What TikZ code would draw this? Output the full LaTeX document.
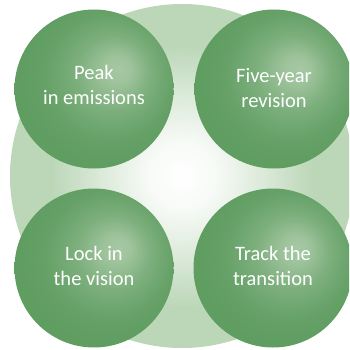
\documentclass[tikz,border=0pt]{standalone}
\usepackage{fontspec}
\setmainfont{Carlito}
\definecolor{dk}{HTML}{5F9D61}
\definecolor{hl}{HTML}{A6C8A3}
\definecolor{bgc}{HTML}{BCD7B8}
\pgfdeclareradialshading{ballg}{\pgfpoint{8bp}{6.5bp}}{color(0bp)=(hl); color(4bp)=(hl!90!dk); color(12bp)=(dk!60!hl); color(20bp)=(dk!90!hl); color(27bp)=(dk); color(50bp)=(dk)}
\pgfdeclareradialshading{bgsh}{\pgfpointorigin}{color(0bp)=(white); color(5bp)=(white!88!bgc); color(12bp)=(white!45!bgc); color(19bp)=(bgc); color(50bp)=(bgc)}
\tikzset{
  ballnode/.style={circle, minimum size=159pt, inner sep=0pt, shading=ballg, draw=none},
  lbl/.style={text=white, align=center, font=\fontsize{20.5}{25}\selectfont}
}
\begin{document}
\begin{tikzpicture}[x=1pt,y=-1pt]
\useasboundingbox (0,0) rectangle (349,350);
\clip (0,0) rectangle (349,350);
\node[circle, minimum size=344pt, inner sep=0pt, shading=bgsh] (bg) at (182,176) {};
\node[ballnode] (tl) at (94,89) {};
\node[ballnode] (tr) at (274,89) {};
\node[ballnode] (bl) at (94,268) {};
\node[ballnode] (br) at (273,268) {};
\node[lbl] (tlt) at ([yshift=4pt]tl.center) {Peak\\in emissions};
\node[lbl] (trt) at ([yshift=1pt]tr.center) {Five-year\\revision};
\node[lbl] (blt) at ([yshift=2pt]bl.center) {Lock in\\the vision};
\node[lbl] (brt) at ([yshift=2pt]br.center) {Track the\\transition};
\end{tikzpicture}
\end{document}
